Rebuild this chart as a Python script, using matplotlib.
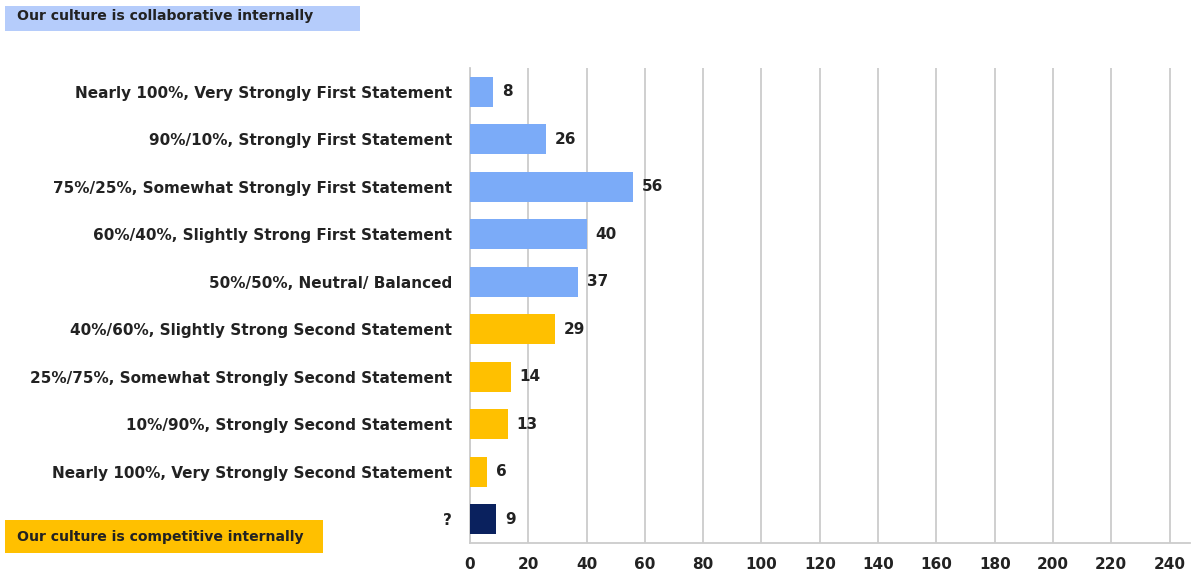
import matplotlib.pyplot as plt
from matplotlib.patches import Rectangle

categories = [
    "Nearly 100%, Very Strongly First Statement",
    "90%/10%, Strongly First Statement",
    "75%/25%, Somewhat Strongly First Statement",
    "60%/40%, Slightly Strong First Statement",
    "50%/50%, Neutral/ Balanced",
    "40%/60%, Slightly Strong Second Statement",
    "25%/75%, Somewhat Strongly Second Statement",
    "10%/90%, Strongly Second Statement",
    "Nearly 100%, Very Strongly Second Statement",
    "?",
]
values = [8, 26, 56, 40, 37, 29, 14, 13, 6, 9]
groups = ["first"] * 5 + ["second"] * 4 + ["unknown"]
ticks = list(range(0, 241, 20))

group_colors = {"first": "#7BABF8", "second": "#FFC000", "unknown": "#0A215E"}

plt.rcParams['font.family'] = ['DejaVu Sans']
FS = 11

fig = plt.figure(figsize=(11.93, 5.75), dpi=100)
ax = fig.add_axes([470 / 1193, 1 - 543 / 575, 720 / 1193, 475 / 575])

ypos = list(range(len(categories)))
ax.barh(ypos, values, height=0.63, color=[group_colors[g] for g in groups], zorder=3)
for y, v in zip(ypos, values):
    ax.text(v + 3, y, str(v), va="center", ha="left", fontsize=FS,
            fontweight="bold", color="#222222")

ax.set_ylim(9.5, -0.5)
ax.set_xlim(0, 247)
ax.set_xticks(ticks)
ax.set_xticklabels([str(t) for t in ticks], fontsize=FS, fontweight="bold", color="#222222")
ax.set_yticks(ypos)
ax.set_yticklabels(categories, fontsize=FS, fontweight="bold", color="#222222")
ax.tick_params(axis="both", length=0)
ax.tick_params(axis="y", pad=13)
ax.tick_params(axis="x", pad=10)
ax.grid(axis="x", color="#CCCCCC", linewidth=1.3, zorder=0)
for side in ["top", "right"]:
    ax.spines[side].set_visible(False)
for side in ["left", "bottom"]:
    ax.spines[side].set_color("#CCCCCC")
    ax.spines[side].set_linewidth(1.3)

# legend-like captions
W, H = 1193, 575
fig.patches.append(Rectangle((5 / W, 1 - 31 / H), 355 / W, 25 / H, transform=fig.transFigure,
                             facecolor="#B5CCFB", edgecolor="none"))
fig.text(17 / W, 1 - 16 / H, "Our culture is collaborative internally", fontsize=10.1,
         fontweight="bold", color="#222222", va="center")
fig.patches.append(Rectangle((5 / W, 1 - 553 / H), 318 / W, 33 / H, transform=fig.transFigure,
                             facecolor="#FFC000", edgecolor="none"))
fig.text(17 / W, 1 - 537 / H, "Our culture is competitive internally", fontsize=10.1,
         fontweight="bold", color="#222222", va="center")

fig.savefig("out.png", dpi=100)
